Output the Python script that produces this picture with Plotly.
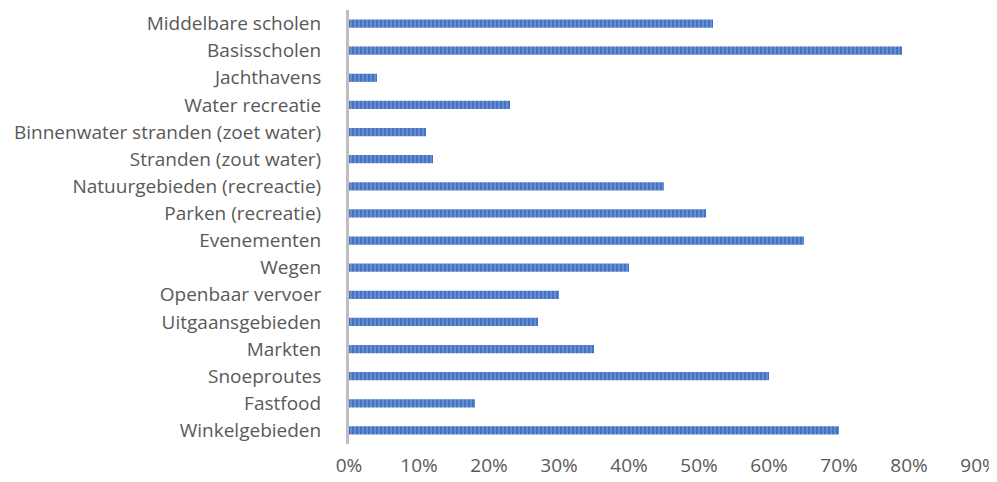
import plotly.graph_objects as go

categories = [
    "Middelbare scholen", "Basisscholen", "Jachthavens", "Water recreatie",
    "Binnenwater stranden (zoet water)", "Stranden (zout water)",
    "Natuurgebieden (recreactie)", "Parken (recreatie)", "Evenementen", "Wegen",
    "Openbaar vervoer", "Uitgaansgebieden", "Markten", "Snoeproutes", "Fastfood",
    "Winkelgebieden",
]
values = [52, 79, 4, 23, 11, 12, 45, 51, 65, 40, 30, 27, 35, 60, 18, 70]
tick_vals = [0, 10, 20, 30, 40, 50, 60, 70, 80, 90]
tick_text = [f"{v}%" for v in tick_vals]

fig = go.Figure(go.Bar(
    x=values, y=categories, orientation="h",
    marker=dict(
        color="#4472C4",
        line=dict(width=0),
        pattern=dict(shape="|", fillmode="overlay", fgcolor="#A9C0E8",
                     size=4, solidity=0.35),
    ),
))

fig.update_layout(
    width=989, height=474,
    margin=dict(l=341, r=18, t=2, b=38),
    paper_bgcolor="white", plot_bgcolor="white",
    bargap=0.7, showlegend=False,
    font=dict(family="Open Sans", size=19, color="#595959"),
    xaxis=dict(range=[0, 90], tickvals=tick_vals, ticktext=tick_text,
               showgrid=False, zeroline=False, showline=False,
               ticks="", automargin=False, ticklabelstandoff=8,
               ticklabeloverflow="allow"),
    yaxis=dict(autorange="reversed", showgrid=False, zeroline=False,
               showline=True, linecolor="#BFBFBF", linewidth=3,
               ticks="", automargin=False, ticklabelstandoff=21),
)

fig.write_html("out.html")
